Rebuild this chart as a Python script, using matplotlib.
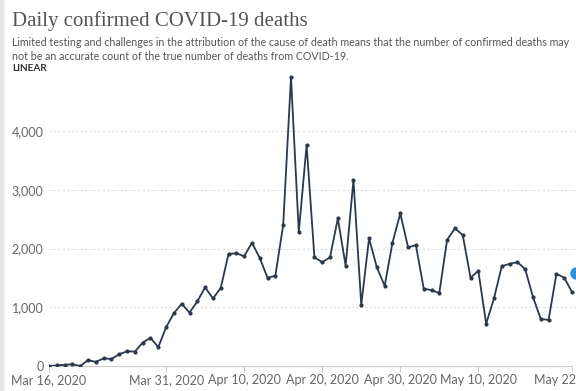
import numpy as np
import pandas as pd
import matplotlib
matplotlib.use("Agg")
import matplotlib.pyplot as plt
import matplotlib.dates as mdates
from matplotlib.patches import Rectangle

# daily confirmed deaths, Mar 16 - May 22 2020
start = "2020-03-16"
deaths = [0, 10, 20, 30, 0, 100, 70, 130, 120, 200,
          250, 245, 400, 480, 320, 660, 900, 1060, 910, 1100,
          1340, 1150, 1330, 1910, 1920, 1870, 2100, 1840, 1500, 1540,
          2400, 4920, 2280, 3765, 1850, 1770, 1850, 2515, 1710, 3170,
          1040, 2175, 1680, 1365, 2100, 2600, 2020, 2060, 1320, 1290,
          1245, 2150, 2345, 2230, 1505, 1620, 720, 1150, 1700, 1740,
          1770, 1650, 1175, 800, 785, 1570, 1505, 1260]
dates = pd.date_range(start, periods=len(deaths), freq="D")

tick_dates = pd.to_datetime(["2020-03-16", "2020-03-31", "2020-04-10", "2020-04-20",
                             "2020-04-30", "2020-05-10", "2020-05-22"])
tick_labels = ["Mar 16, 2020", "Mar 31, 2020", "Apr 10, 2020", "Apr 20, 2020",
               "Apr 30, 2020", "May 10, 2020", "May 22, 2020"]
y_ticks = [0, 1000, 2000, 3000, 4000]
y_labels = ["0", "1,000", "2,000", "3,000", "4,000"]

line_col = "#2c384c"
grey = "#666666"

fig = plt.figure(figsize=(5.76, 3.91), dpi=100)
fig.patches.append(Rectangle((0, 0), 3 / 576, 1, transform=fig.transFigure,
                             color="#e6e6e6", zorder=0))

fig.text(12 / 576, 1 - 11 / 391, "Daily confirmed COVID-19 deaths", va="top",
         family="Liberation Serif", fontsize=15, color="#555555")
fig.text(12 / 576, 1 - 37 / 391,
         "Limited testing and challenges in the attribution of the cause of death means that the number of confirmed deaths may\n"
         "not be an accurate count of the true number of deaths from COVID-19.",
         va="top", family="Lato", fontsize=7.7, color="#555555", linespacing=1.3)
fig.text(12 / 576, 1 - 64 / 391, "LINEAR", va="top", family="Lato", fontsize=7.2,
         fontweight="bold", color="#333333")

ax = fig.add_axes([49 / 576, 25 / 391, 527 / 576, 293.5 / 391])
ax.plot(dates, deaths, color=line_col, lw=1.3, marker="o", ms=2.0, zorder=3)
# end-of-line hover marker, cut off at the right edge
ax.plot(dates[-1] + pd.Timedelta(days=0.55), 1580, "o", ms=8,
        color="#2f8fe0", clip_on=False, zorder=4)

ax.set_xlim(dates[0], dates[-1] + pd.Timedelta(days=0.51))
ax.set_ylim(0, 5000)

ax.set_yticks(y_ticks)
ax.set_yticklabels(y_labels)
ax.set_xticks(tick_dates)
ax.set_xticklabels(tick_labels)

for s in ["top", "right", "left"]:
    ax.spines[s].set_visible(False)
ax.spines["bottom"].set_color("#cccccc")
ax.spines["bottom"].set_bounds(mdates.date2num(dates[0]), mdates.date2num(dates[-1]))

ax.tick_params(axis="y", length=0, pad=4, labelsize=9, labelcolor=grey)
ax.tick_params(axis="x", length=4, color="#cccccc", pad=2, labelsize=9, labelcolor=grey)
for lbl in ax.get_xticklabels() + ax.get_yticklabels():
    lbl.set_family("Lato")

ax.yaxis.grid(True, color="#dddddd", linestyle=(0, (2, 2)), lw=0.8)
ax.set_axisbelow(True)
ax.set_facecolor("none")

fig.savefig("out.png", dpi=100)
